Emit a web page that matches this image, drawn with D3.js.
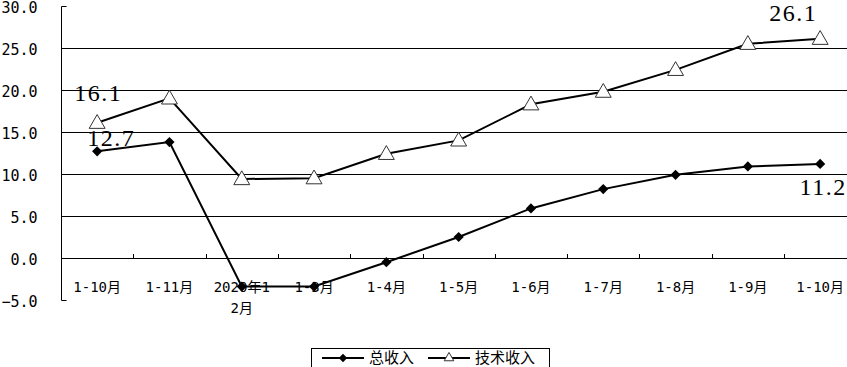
<!DOCTYPE html>
<meta charset="utf-8">
<head>
  <title>总收入 / 技术收入</title>
</head>
<style>
body { margin: 0; background: #fff; }
text { font-family: "DejaVu Sans Mono", "Noto Sans CJK SC", monospace; font-size: 14px; fill: #000; }
.lbl { font-family: "Liberation Serif", "DejaVu Serif", serif; font-size: 24px; letter-spacing: 1.5px; }
</style>
<body>
<script src="https://cdn.jsdelivr.net/npm/d3@7"></script>
<script>
  // 数据
  var categories = ["1-10月", "1-11月", "2020年1\n2月", "1-3月", "1-4月", "1-5月", "1-6月", "1-7月", "1-8月", "1-9月", "1-10月"];
  var zongShouRu = [12.7, 13.8, -3.4, -3.4, -0.5, 2.5, 5.9, 8.2, 9.9, 10.9, 11.2];
  var jiShuShouRu = [16.1, 19.0, 9.4, 9.5, 12.4, 14.0, 18.3, 19.8, 22.4, 25.5, 26.1];
  var yTicks = [30, 25, 20, 15, 10, 5, 0, -5];

  var width = 847, height = 367;
  var mLeft = 61, mTop = 6, mBottom = 300;
  var bandW = 72.3;

  var svg = d3.select("body").append("svg")
    .attr("width", width)
    .attr("height", height);

  var x = d3.scaleBand()
    .domain(d3.range(categories.length))
    .range([mLeft, mLeft + bandW * categories.length]);
  var y = d3.scaleLinear().domain([-5, 30]).range([mBottom, mTop]);

  // 网格线
  svg.append("g").selectAll("line")
    .data(yTicks.filter(function(d) { return d != 30 && d != -5 && d != 0; }))
    .enter().append("line")
    .attr("x1", mLeft).attr("x2", width)
    .attr("y1", function(d) { return Math.round(y(d)) + 0.5; })
    .attr("y2", function(d) { return Math.round(y(d)) + 0.5; })
    .attr("stroke", "#000").attr("stroke-width", 1);

  // y轴
  var yAxis = d3.axisLeft(y).tickValues(yTicks).tickSize(0).tickPadding(24)
    .tickFormat(d3.format(".1f"));
  var ga = svg.append("g").attr("transform", "translate(" + (mLeft + 0.5) + ",0)").call(yAxis);
  ga.select(".domain").remove();
  ga.selectAll("text").attr("font-family", null).attr("font-size", null)
    .style("font-size", "15px").attr("dy", "0.4em");
  svg.append("path")
    .attr("d", "M" + (mLeft + 5.5) + "," + (Math.round(y(30)) + 0.5) + "H" + (mLeft + 0.5) + "V" + (Math.round(y(-5)) + 0.5) + "H" + (mLeft + 5.5))
    .attr("fill", "none").attr("stroke", "#000");

  // x轴（零线）
  svg.append("line")
    .attr("x1", mLeft).attr("x2", width)
    .attr("y1", Math.round(y(0)) + 0.5).attr("y2", Math.round(y(0)) + 0.5)
    .attr("stroke", "#000");
  svg.append("g").selectAll("line")
    .data(d3.range(1, categories.length))
    .enter().append("line")
    .attr("x1", function(i) { return Math.round(x(i)) + 0.5; })
    .attr("x2", function(i) { return Math.round(x(i)) + 0.5; })
    .attr("y1", Math.round(y(0)) - 4).attr("y2", Math.round(y(0)))
    .attr("stroke", "#000");

  // x标签
  var xl = svg.append("g").selectAll("text")
    .data(categories)
    .enter().append("text")
    .attr("text-anchor", "middle")
    .attr("x", function(d, i) { return x(i) + x.bandwidth() / 2; })
    .attr("y", 292);
  xl.each(function(d) {
    var t = d3.select(this);
    d.split("\n").forEach(function(s, k) {
      t.append("tspan")
        .attr("x", t.attr("x"))
        .attr("dy", k == 0 ? 0 : 21)
        .text(s);
    });
  });

  var cx = function(d, i) { return x(i) + x.bandwidth() / 2; };
  var line = d3.line().x(function(d, i) { return cx(d, i); }).y(function(d) { return y(d); });

  svg.append("path").datum(jiShuShouRu)
    .attr("d", line).attr("fill", "none").attr("stroke", "#000").attr("stroke-width", 2);
  svg.append("path").datum(zongShouRu)
    .attr("d", line).attr("fill", "none").attr("stroke", "#000").attr("stroke-width", 2);

  var tri = d3.symbol().type(d3.symbolTriangle).size(110);
  var dia = d3.symbol().type(d3.symbolSquare).size(52);

  svg.append("g").selectAll("path")
    .data(jiShuShouRu).enter().append("path")
    .attr("d", tri)
    .attr("transform", function(d, i) { return "translate(" + cx(d, i) + "," + (y(d) + 1) + ")"; })
    .attr("fill", "#fff").attr("stroke", "#333").attr("stroke-width", 1);
  svg.append("g").selectAll("path")
    .data(zongShouRu).enter().append("path")
    .attr("d", dia)
    .attr("transform", function(d, i) { return "translate(" + cx(d, i) + "," + y(d) + ") rotate(45)"; })
    .attr("fill", "#000");

  // 数据标签
  var labels = [
    { v: jiShuShouRu[0], i: 0, dx: 1, dy: -30 },
    { v: zongShouRu[0], i: 0, dx: 14, dy: -14 },
    { v: jiShuShouRu[10], i: 10, dx: -27, dy: -26 },
    { v: zongShouRu[10], i: 10, dx: 3, dy: 23 }
  ];
  svg.append("g").selectAll("text")
    .data(labels).enter().append("text")
    .attr("class", "lbl")
    .attr("text-anchor", "middle")
    .attr("x", function(d) { return cx(d.v, d.i) + d.dx; })
    .attr("y", function(d) { return y(d.v) + d.dy; })
    .attr("dy", "0.35em")
    .text(function(d) { return d.v.toFixed(1); });

  // 图例
  var lg = svg.append("g");
  lg.append("rect").attr("x", 311.5).attr("y", 348.5).attr("width", 238).attr("height", 30)
    .attr("fill", "#fff").attr("stroke", "#000");
  lg.append("line").attr("x1", 322).attr("x2", 364).attr("y1", 358).attr("y2", 358).attr("stroke", "#000").attr("stroke-width", 2);
  lg.append("path").attr("d", d3.symbol().type(d3.symbolSquare).size(36)).attr("transform", "translate(343,358) rotate(45)");
  lg.append("text").attr("x", 369).attr("y", 358).attr("dy", "0.35em")
    .style("font-family", "'Noto Sans CJK SC'").style("font-size", "15px").text("总收入");
  lg.append("line").attr("x1", 428).attr("x2", 470).attr("y1", 358).attr("y2", 358).attr("stroke", "#000").attr("stroke-width", 2);
  lg.append("path").attr("d", d3.symbol().type(d3.symbolTriangle).size(40)).attr("transform", "translate(449,358)")
    .attr("fill", "#fff").attr("stroke", "#333");
  lg.append("text").attr("x", 475).attr("y", 358).attr("dy", "0.35em")
    .style("font-family", "'Noto Sans CJK SC'").style("font-size", "15px").text("技术收入");
</script>
</body>
